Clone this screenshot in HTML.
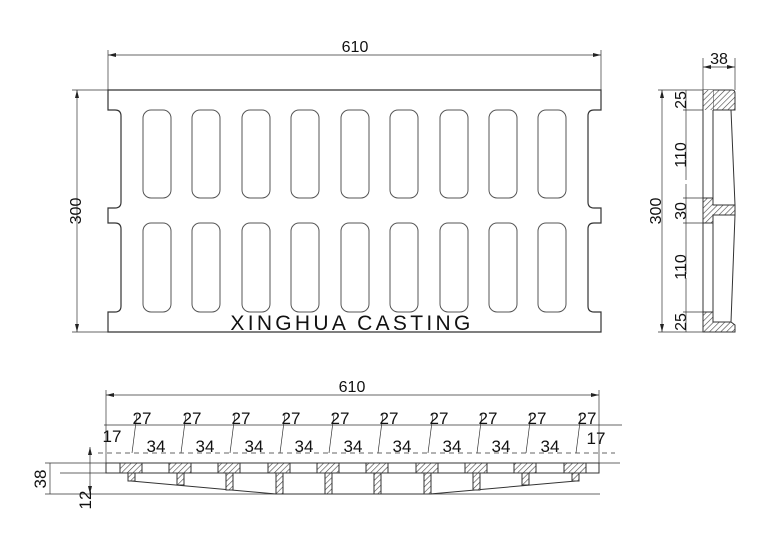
<!DOCTYPE html>
<html><head><meta charset="utf-8"><style>
html,body{margin:0;padding:0;background:#fff}
svg{display:block}
text{font-family:"Liberation Sans",sans-serif;fill:#111}
</style></head><body>
<svg width="768" height="543" viewBox="0 0 768 543" xmlns="http://www.w3.org/2000/svg">
<defs>
<pattern id="h" width="4" height="4" patternUnits="userSpaceOnUse" patternTransform="rotate(45)">
<rect width="4" height="4" fill="#fff"/><line x1="0" y1="0" x2="0" y2="4" stroke="#444" stroke-width="1.2"/></pattern>
<marker id="a" markerWidth="8" markerHeight="6" refX="8" refY="3" orient="auto-start-reverse" markerUnits="userSpaceOnUse"><path d="M0,1 L8,3 L0,5z" fill="#222"/></marker>
</defs>
<g fill="none" stroke="#333" stroke-width="1">
<path d="M108,90 H601 V110 H594 Q588,110 588,116 V202 Q588,208 594,208 H601 V223 H594 Q588,223 588,229 V306 Q588,312 594,312 H601 V332 H108 V312 H115 Q121,312 121,306 V229 Q121,223 115,223 H108 V208 H115 Q121,208 121,202 V116 Q121,110 115,110 H108 Z" stroke-width="1.2"/>
<g stroke="#555">
<rect x="143" y="110" width="28" height="88" rx="8"/><rect x="143" y="223" width="28" height="89" rx="8"/>
<rect x="192" y="110" width="28" height="88" rx="8"/><rect x="192" y="223" width="28" height="89" rx="8"/>
<rect x="242" y="110" width="28" height="88" rx="8"/><rect x="242" y="223" width="28" height="89" rx="8"/>
<rect x="291" y="110" width="28" height="88" rx="8"/><rect x="291" y="223" width="28" height="89" rx="8"/>
<rect x="341" y="110" width="28" height="88" rx="8"/><rect x="341" y="223" width="28" height="89" rx="8"/>
<rect x="390" y="110" width="28" height="88" rx="8"/><rect x="390" y="223" width="28" height="89" rx="8"/>
<rect x="440" y="110" width="28" height="88" rx="8"/><rect x="440" y="223" width="28" height="89" rx="8"/>
<rect x="489" y="110" width="28" height="88" rx="8"/><rect x="489" y="223" width="28" height="89" rx="8"/>
<rect x="538" y="110" width="28" height="88" rx="8"/><rect x="538" y="223" width="28" height="89" rx="8"/>
</g>
<line x1="108" y1="50" x2="108" y2="90" stroke-width="0.7"/><line x1="601" y1="50" x2="601" y2="90" stroke-width="0.7"/>
<line x1="108" y1="55" x2="601" y2="55" marker-start="url(#a)" marker-end="url(#a)" stroke-width="0.7"/>
<line x1="72" y1="90" x2="108" y2="90" stroke-width="0.7"/><line x1="72" y1="332" x2="108" y2="332" stroke-width="0.7"/>
<line x1="77" y1="90" x2="77" y2="332" marker-start="url(#a)" marker-end="url(#a)" stroke-width="0.7"/>
<path d="M703,90 H732 Q735,90 735,93 V110 H713 V90" fill="url(#h)"/>
<path d="M703,312 H713 V322 H731 L735,325 V332 H703 Z" fill="url(#h)"/>
<path d="M703,90 H713 V110 H703 Z" fill="url(#h)" stroke="none"/>
<path d="M703,198 H713 V205 H735 V215 H713 V223 H703 Z" fill="url(#h)"/>
<line x1="703" y1="90" x2="703" y2="332"/>
<line x1="713" y1="110" x2="713" y2="198"/><line x1="713" y1="223" x2="713" y2="322"/>
<line x1="731" y1="110" x2="735" y2="205"/><line x1="735" y1="215" x2="731" y2="322"/>
<line x1="703" y1="58" x2="703" y2="90" stroke-width="0.7"/><line x1="735" y1="58" x2="735" y2="90" stroke-width="0.7"/>
<line x1="703" y1="67" x2="735" y2="67" marker-start="url(#a)" marker-end="url(#a)" stroke-width="0.7"/>
<g stroke-width="0.7">
<line x1="658" y1="90" x2="703" y2="90"/><line x1="658" y1="332" x2="703" y2="332"/>
<line x1="662" y1="90" x2="662" y2="332" marker-start="url(#a)" marker-end="url(#a)"/>
<line x1="683" y1="110" x2="703" y2="110"/><line x1="683" y1="198" x2="703" y2="198"/>
<line x1="683" y1="223" x2="703" y2="223"/><line x1="683" y1="312" x2="703" y2="312"/>
<line x1="686" y1="90" x2="686" y2="332" stroke-dasharray="90 4"/>
</g>
<g stroke-width="0.7">
<line x1="106" y1="390" x2="106" y2="463"/><line x1="599" y1="390" x2="599" y2="473"/>
<line x1="106" y1="395" x2="599" y2="395" marker-start="url(#a)" marker-end="url(#a)"/>
<line x1="104" y1="425" x2="622" y2="425"/>
<line x1="98" y1="453" x2="615" y2="453" stroke-dasharray="5 4"/>
<line x1="45" y1="463" x2="620" y2="463"/>
<line x1="60" y1="473" x2="106" y2="473"/>
<line x1="45" y1="494" x2="600" y2="494"/>
<line x1="90" y1="447" x2="90" y2="494" marker-start="url(#a)" marker-end="url(#a)"/>
<line x1="50" y1="463" x2="50" y2="494"/>
</g>
<rect x="106" y="463" width="493" height="10"/>
<path d="M131,481 L276,494 H430 L576,481" />
<g fill="url(#h)">
<rect x="120" y="463" width="22" height="10"/><rect x="128" y="473" width="7" height="8"/>
<rect x="169" y="463" width="22" height="10"/><rect x="177" y="473" width="7" height="12"/>
<rect x="218" y="463" width="22" height="10"/><rect x="226" y="473" width="7" height="17"/>
<rect x="268" y="463" width="22" height="10"/><rect x="276" y="473" width="7" height="21"/>
<rect x="317" y="463" width="22" height="10"/><rect x="325" y="473" width="7" height="21"/>
<rect x="366" y="463" width="22" height="10"/><rect x="374" y="473" width="7" height="21"/>
<rect x="416" y="463" width="22" height="10"/><rect x="424" y="473" width="7" height="21"/>
<rect x="465" y="463" width="22" height="10"/><rect x="473" y="473" width="7" height="17"/>
<rect x="514" y="463" width="22" height="10"/><rect x="522" y="473" width="7" height="12"/>
<rect x="564" y="463" width="22" height="10"/><rect x="572" y="473" width="7" height="8"/>
</g>
<g stroke-width="0.7">
<line x1="132" y1="453" x2="137" y2="414"/><line x1="181" y1="453" x2="186" y2="414"/>
<line x1="230" y1="453" x2="235" y2="414"/><line x1="280" y1="453" x2="285" y2="414"/>
<line x1="329" y1="453" x2="334" y2="414"/><line x1="378" y1="453" x2="383" y2="414"/>
<line x1="428" y1="453" x2="433" y2="414"/><line x1="477" y1="453" x2="482" y2="414"/>
<line x1="526" y1="453" x2="531" y2="414"/><line x1="576" y1="453" x2="581" y2="414"/>
</g>
</g>
<text x="355" y="52" font-size="16" text-anchor="middle">610</text>
<text x="352" y="330" font-size="21" text-anchor="middle" letter-spacing="3.3">XINGHUA CASTING</text>
<text transform="translate(81,211) rotate(-90)" font-size="16" text-anchor="middle">300</text>
<text x="719" y="64" font-size="16" text-anchor="middle">38</text>
<text transform="translate(661,211) rotate(-90)" font-size="16" text-anchor="middle">300</text>
<g font-size="16" text-anchor="middle">
<text transform="translate(686,100) rotate(-90)">25</text>
<text transform="translate(686,155) rotate(-90)">110</text>
<text transform="translate(686,211) rotate(-90)">30</text>
<text transform="translate(686,267) rotate(-90)">110</text>
<text transform="translate(686,322) rotate(-90)">25</text>
</g>
<text x="352" y="392" font-size="16" text-anchor="middle">610</text>
<g font-size="17" text-anchor="middle">
<text x="142" y="424">27</text><text x="192" y="424">27</text><text x="241" y="424">27</text><text x="291" y="424">27</text><text x="340" y="424">27</text>
<text x="389" y="424">27</text><text x="439" y="424">27</text><text x="488" y="424">27</text><text x="537" y="424">27</text><text x="587" y="424">27</text>
<text x="156" y="452">34</text><text x="205" y="452">34</text><text x="254" y="452">34</text><text x="304" y="452">34</text><text x="353" y="452">34</text>
<text x="402" y="452">34</text><text x="452" y="452">34</text><text x="501" y="452">34</text><text x="550" y="452">34</text>
<text x="112" y="442">17</text><text x="596" y="444">17</text>
<text transform="translate(46,479) rotate(-90)">38</text>
<text transform="translate(91,500) rotate(-90)">12</text>
</g>
</svg>
</body></html>
